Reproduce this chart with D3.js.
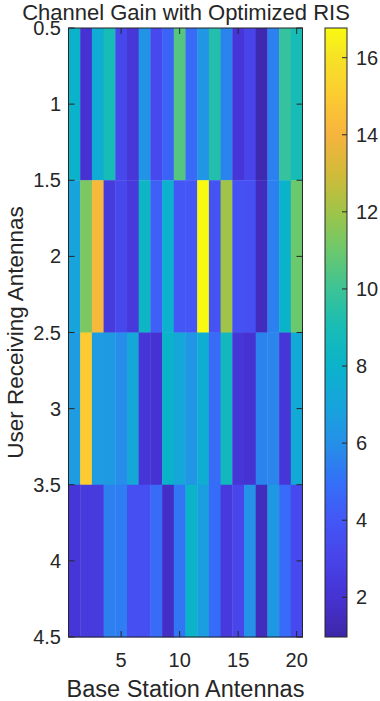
<!DOCTYPE html>
<html>
<head>
<meta charset="utf-8">
<script src="https://cdn.jsdelivr.net/npm/d3@7"></script>
<style>
  body { margin: 0; background: #fff; }
  text { font-family: "Liberation Sans", Arial, Helvetica, sans-serif; fill: #262626; }
</style>
</head>
<body>
<svg id="chart" width="380" height="701"></svg>
<script>
// channel gain per user receiving antenna (rows) and base station antenna (columns)
var row1 = [8.0, 2.0, 7.5, 9.0, 3.2, 2.3, 6.2, 3.3, 4.5, 10.5, 4.8, 6.3, 9.3, 5.6, 2.2, 3.0, 1.2, 5.5, 9.8, 9.0];
var row2 = [7.0, 11.3, 14.2, 2.5, 3.2, 2.4, 8.3, 4.4, 7.8, 4.0, 4.0, 16.77, 3.8, 12.0, 3.7, 3.6, 1.5, 5.5, 8.0, 11.0];
var row3 = [6.6, 15.0, 6.6, 6.5, 5.9, 7.2, 2.2, 2.0, 8.0, 7.2, 6.3, 7.6, 4.8, 8.6, 2.2, 2.0, 5.6, 5.7, 2.2, 7.3];
var row4 = [2.2, 2.5, 2.5, 5.5, 5.4, 3.6, 3.6, 4.8, 1.7, 5.2, 8.1, 6.7, 4.9, 2.4, 3.1, 6.1, 1.5, 6.4, 4.8, 3.3];
var gain = [row1, row2, row3, row4];

var xTicks = [5, 10, 15, 20];
var yTicks = [0.5, 1, 1.5, 2, 2.5, 3, 3.5, 4, 4.5];
var cbTicks = [2, 4, 6, 8, 10, 12, 14, 16];
var cbRange = [0.97, 16.77];

// parula-like colormap
var parulaVals = [0.97, 2, 3, 4, 5, 6, 7, 8, 9, 10, 11, 12, 13, 14, 15, 16, 16.77];
var parulaCols = ["#3e26a8", "#4632d2", "#4844ea", "#4456f6", "#3470f8", "#2590e8", "#17a4dc", "#0ab3ca",
                  "#18bcb6", "#3cc396", "#6cc86c", "#a0c448", "#d2ba38", "#f6b43e", "#fccb32", "#f6e226", "#f9fa12"];

var svg = d3.select("#chart");
var margin = { top: 28, left: 68.5, right: 302.5, bottom: 637 };

var x = d3.scaleLinear().domain([0.5, 20.5]).range([margin.left, margin.right]);
var y = d3.scaleLinear().domain([0.5, 4.5]).range([margin.top, margin.bottom]);
var color = d3.scaleLinear().domain(parulaVals).range(parulaCols).clamp(true);

var cells = [];
gain.forEach(function(r, i) {
  r.forEach(function(v, j) { cells.push({ row: i + 1, col: j + 1, v: v }); });
});

svg.append("g").selectAll("rect")
  .data(cells)
  .enter().append("rect")
  .attr("x", d => x(d.col - 0.5))
  .attr("y", d => y(d.row - 0.5))
  .attr("width", x(1.5) - x(0.5) + 0.4)
  .attr("height", y(1.5) - y(0.5) + 0.4)
  .attr("fill", d => color(d.v));

// box
svg.append("rect")
  .attr("x", margin.left).attr("y", margin.top)
  .attr("width", margin.right - margin.left).attr("height", margin.bottom - margin.top)
  .attr("fill", "none").attr("stroke", "#262626").attr("stroke-width", 1);

var tl = 6;
var ax = svg.append("g").attr("stroke", "#262626").attr("stroke-width", 1);
xTicks.forEach(function(t) {
  ax.append("line").attr("x1", x(t)).attr("x2", x(t)).attr("y1", margin.bottom).attr("y2", margin.bottom - tl);
  ax.append("line").attr("x1", x(t)).attr("x2", x(t)).attr("y1", margin.top).attr("y2", margin.top + tl);
});
yTicks.forEach(function(t) {
  ax.append("line").attr("x1", margin.left).attr("x2", margin.left + tl).attr("y1", y(t)).attr("y2", y(t));
  ax.append("line").attr("x1", margin.right).attr("x2", margin.right - tl).attr("y1", y(t)).attr("y2", y(t));
});

svg.append("g").selectAll("text")
  .data(xTicks)
  .enter().append("text")
  .attr("x", d => x(d))
  .attr("y", 667)
  .attr("text-anchor", "middle")
  .style("font-size", "20px")
  .text(d => d);

svg.append("g").selectAll("text")
  .data(yTicks)
  .enter().append("text")
  .attr("x", 61)
  .attr("y", d => y(d) + 7)
  .attr("text-anchor", "end")
  .style("font-size", "20px")
  .text(d => d);

svg.append("text")
  .attr("x", 186)
  .attr("y", 20)
  .attr("text-anchor", "middle")
  .style("font-size", "22px")
  .text("Channel Gain with Optimized RIS");

svg.append("text")
  .attr("x", (margin.left + margin.right) / 2)
  .attr("y", 697)
  .attr("text-anchor", "middle")
  .style("font-size", "23.5px")
  .text("Base Station Antennas");

svg.append("text")
  .attr("transform", "translate(23," + (margin.top + margin.bottom) / 2 + ") rotate(-90)")
  .attr("text-anchor", "middle")
  .style("font-size", "22.5px")
  .text("User Receiving Antennas");

// colour bar
var cb = { left: 325, right: 347 };
var cy = d3.scaleLinear().domain(cbRange).range([margin.bottom, margin.top]);

var grad = svg.append("defs").append("linearGradient")
  .attr("id", "cbgrad")
  .attr("x1", 0).attr("y1", 1).attr("x2", 0).attr("y2", 0);
d3.range(0, 1.0001, 1 / 64).forEach(function(t) {
  var v = cbRange[0] + t * (cbRange[1] - cbRange[0]);
  grad.append("stop").attr("offset", t).attr("stop-color", color(v));
});

svg.append("rect")
  .attr("x", cb.left).attr("y", margin.top)
  .attr("width", cb.right - cb.left).attr("height", margin.bottom - margin.top)
  .attr("fill", "url(#cbgrad)")
  .attr("stroke", "#262626").attr("stroke-width", 1);

var cbg = svg.append("g");
cbg.selectAll("line")
  .data(cbTicks)
  .enter().append("line")
  .attr("x1", cb.right).attr("x2", cb.right - 5)
  .attr("y1", d => cy(d)).attr("y2", d => cy(d))
  .attr("stroke", "#262626");
cbg.selectAll("text")
  .data(cbTicks)
  .enter().append("text")
  .attr("x", 356)
  .attr("y", d => cy(d) + 7)
  .style("font-size", "20px")
  .text(d => d);
</script>
</body>
</html>
